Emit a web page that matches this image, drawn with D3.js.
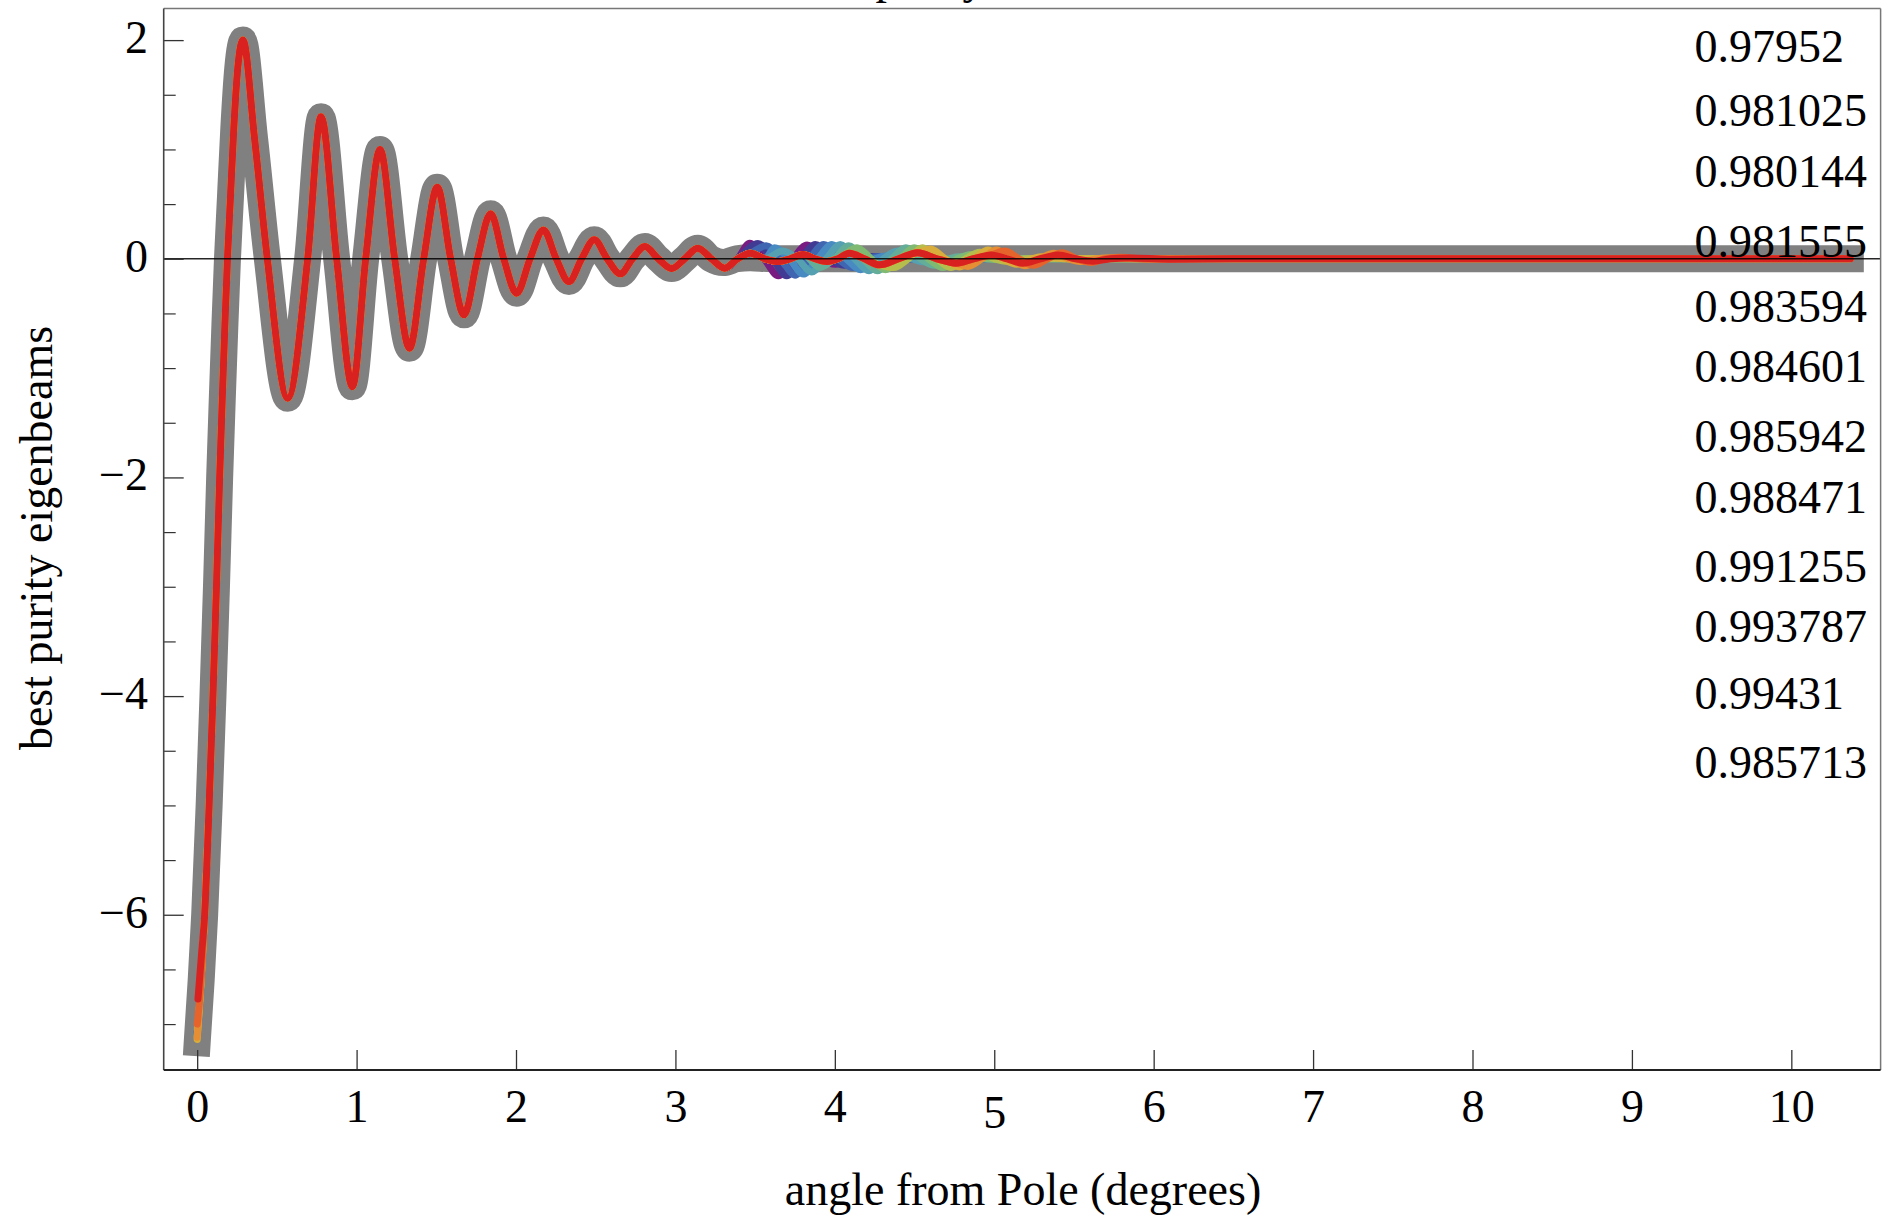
<!DOCTYPE html>
<html><head><meta charset="utf-8">
<script src="https://cdn.jsdelivr.net/npm/d3@7"></script>
<style>
html,body{margin:0;padding:0;background:#fff;overflow:hidden}
svg text{font-family:"Liberation Serif","Times New Roman",serif;fill:#000}
</style>
</head><body>
<svg id="chart" width="1888" height="1220"></svg>
<script>
// ---------------- DATA ----------------
const chartTitle = "best purity";
const xTitle = "angle from Pole (degrees)";
const yTitle = "best purity eigenbeams";
const xTicks = [0,1,2,3,4,5,6,7,8,9,10];
const yMajorTicks = [-6,-4,-2,0,2];
const yMinorTicks = [-7,-6.5,-5.5,-5,-4.5,-3.5,-3,-2.5,-1.5,-1,-0.5,0.5,1,1.5];
const purities = ["0.97952","0.981025","0.980144","0.981555","0.983594","0.984601",
                  "0.985942","0.988471","0.991255","0.993787","0.99431","0.985713"];
const seriesColors = ["#781C81","#413B93","#4065B1","#488BC2","#55A1B1","#63AD99",
                      "#7FB972","#B5BD4C","#D9AD3C","#E68E34","#E6642C","#D92120"];
// start values (x = 0) of the eleven non-red eigenbeams
const colorStartY = [-7.08,-7.1,-7.12,-7.1,-7.08,-7.05,-7.1,-7.12,-7.14,-7.12,-7.0];
// shared main lobe + oscillation (all beams coincide here)
const sharedBody = [
 [0.047,-6.0],[0.075,-5.0],[0.099,-4.0],[0.121,-3.0],[0.141,-2.0],[0.157,-1.3],[0.174,-0.6],
 [0.19,0],[0.208,0.54],[0.23,1.2],[0.255,1.75],[0.287,2.0],[0.36,1.1],
 [0.44,0],[0.568,-1.275],[0.693,0],[0.777,1.30],[0.875,0],[0.974,-1.17],
 [1.057,0],[1.147,1.0],[1.239,0],[1.332,-0.818],[1.421,0],[1.506,0.655],[1.59,0],[1.674,-0.513],
 [1.758,0],[1.841,0.411],[1.923,0],[2.004,-0.315],[2.088,0],[2.172,0.264],[2.252,0],[2.332,-0.208],
 [2.412,0],[2.491,0.173],[2.572,0],[2.654,-0.138],[2.731,0],[2.808,0.112],[2.892,0],[2.976,-0.09],
 [3.058,0],[3.14,0.097]
];
const redStart = [[0.005,-6.77],[0.028,-6.35]];
const otherStartNext = [0.025,-6.6];
const redTail = [
 [3.225,0],[3.31,-0.086],[3.39,0],[3.47,0.05],[3.56,0],[3.65,-0.025],[3.72,0],[3.80,0.04],
 [3.875,0],[3.95,-0.025],[4.02,0],[4.09,0.05],[4.185,0],[4.28,-0.055],[4.40,0],[4.52,0.055],
 [4.64,0],[4.76,-0.04],[4.87,0],[4.98,0.035],[5.08,0],[5.18,-0.04],[5.29,0],[5.40,0.035],
 [5.51,0],[5.62,-0.022],[5.73,0],[5.85,0.008],[6.1,-0.004],[6.5,0],[10.37,0]
];
const grayStart = [[0,-7.17],[0.025,-6.6]];
const grayTail = [[3.222,0],[3.30,-0.035],[3.385,0],[3.47,0.01],[3.6,0],[10.37,0]];
// individual tails of the eleven non-red eigenbeams
const colorTails = [
 [[3.466,0.142],[3.556,0],[3.646,-0.156],[3.736,0],[3.826,0.125],[3.916,0],[4.006,-0.05],[4.10,0],[4.19,0.015],[4.35,0]],
 [[3.518,0.14],[3.608,0],[3.698,-0.155],[3.788,0],[3.878,0.13],[3.968,0],[4.058,-0.06],[4.148,0],[4.238,0.02],[4.40,0]],
 [[3.570,0.12],[3.66,0],[3.750,-0.15],[3.84,0],[3.930,0.13],[4.02,0],[4.110,-0.08],[4.20,0],[4.29,0.02],[4.45,0]],
 [[3.622,0.10],[3.712,0],[3.802,-0.14],[3.892,0],[3.982,0.13],[4.072,0],[4.162,-0.10],[4.252,0],[4.342,0.03],[4.45,0]],
 [[3.674,0.07],[3.764,0],[3.854,-0.12],[3.944,0],[4.034,0.13],[4.124,0],[4.214,-0.11],[4.304,0],[4.394,0.07],[4.484,0],[4.574,-0.03],[4.70,0]],
 [[3.906,-0.08],[3.996,0],[4.086,0.12],[4.176,0],[4.266,-0.11],[4.356,0],[4.446,0.10],[4.536,0],[4.626,-0.06],[4.716,0],[4.806,0.02],[4.95,0]],
 [[4.138,0.10],[4.228,0],[4.318,-0.10],[4.408,0],[4.498,0.10],[4.588,0],[4.678,-0.08],[4.768,0],[4.858,0.04],[4.95,0],[5.05,-0.01],[5.2,0]],
 [[4.37,-0.08],[4.46,0],[4.55,0.10],[4.64,0],[4.73,-0.08],[4.82,0],[4.91,0.06],[5.00,0],[5.09,-0.025],[5.2,0],[5.4,0]],
 [[4.602,0.09],[4.692,0],[4.782,-0.075],[4.872,0],[4.962,0.08],[5.052,0],[5.142,-0.05],[5.232,0],[5.322,0.02],[5.45,0],[5.6,0]],
 [[4.834,-0.07],[4.924,0],[5.014,0.08],[5.104,0],[5.194,-0.065],[5.284,0],[5.374,0.05],[5.464,0],[5.554,-0.025],[5.644,0],[5.73,0.01],[5.9,0],[6.2,0]],
 [[5.066,0.07],[5.156,0],[5.246,-0.06],[5.336,0],[5.426,0.055],[5.516,0],[5.606,-0.035],[5.696,0],[5.786,0.015],[5.97,-0.005],[6.3,0]]
];
const lastX = 10.37;

// ---------------- LAYOUT ----------------
const L = 163.7, R = 1880.6, T = 8.4, B = 1070;
const FONT = 46;
const labelX = 1694.5;
const labelBaselines = [62,126,187,257,322,382,452,513,582,642,709,778];

const svg = d3.select("#chart");
const x = d3.scaleLinear().domain([-0.21, 10.56]).range([L, R]);
const y = d3.scaleLinear().domain([-7.42, 2.29]).range([B, T]);

// build series
const graySeries = grayStart.concat(sharedBody, grayTail);
const colorSeries = colorTails.map((tail, i) => {
  const t0 = tail[0][0] - 0.06;
  return [[0, colorStartY[i]], otherStartNext].concat(
    sharedBody, redTail.filter(p => p[0] < t0), tail, [[lastX, 0]]);
});
const redSeries = redStart.concat(sharedBody, redTail);

svg.append("defs").append("clipPath").attr("id","plotclip")
  .append("rect").attr("x", L).attr("y", T).attr("width", R - L).attr("height", B - T);

const line = d3.line().x(d => x(d[0])).y(d => y(d[1])).curve(d3.curveMonotoneX);
const plot = svg.append("g").attr("clip-path","url(#plotclip)");

plot.append("path").datum(graySeries).attr("d", line)
  .attr("fill","none").attr("stroke","#808080").attr("stroke-width",27)
  .attr("stroke-linecap","square").attr("stroke-linejoin","round");

colorSeries.forEach((s, i) => {
  plot.append("path").datum(s).attr("d", line)
    .attr("fill","none").attr("stroke", seriesColors[i]).attr("stroke-width",7)
    .attr("stroke-linecap","round").attr("stroke-linejoin","round");
});
plot.append("path").datum(redSeries).attr("d", line)
  .attr("fill","none").attr("stroke", seriesColors[11]).attr("stroke-width",7)
  .attr("stroke-linecap","round").attr("stroke-linejoin","round");

// zero axis line on top
svg.append("line").attr("x1", L).attr("x2", R).attr("y1", y(0)).attr("y2", y(0))
  .attr("stroke","#000").attr("stroke-width",1.6).attr("stroke-opacity",0.85);

// frame
svg.append("line").attr("x1",L).attr("x2",R).attr("y1",T).attr("y2",T).attr("stroke","#777").attr("stroke-width",1.5);
svg.append("line").attr("x1",R).attr("x2",R).attr("y1",T).attr("y2",B).attr("stroke","#777").attr("stroke-width",1.5);

// y axis
const yAxisMajor = d3.axisLeft(y).tickValues(yMajorTicks).tickSizeInner(-20).tickSizeOuter(0).tickPadding(15.7);
const gy = svg.append("g").attr("transform",`translate(${L},0)`).call(yAxisMajor);
gy.select(".domain").remove();
gy.selectAll(".tick line").attr("stroke","#333").attr("stroke-width",1.3);
gy.selectAll(".tick text").attr("font-size",FONT).attr("dy","0.27em")
  .attr("font-family",'"Liberation Serif","Times New Roman",serif').attr("fill","#000");
const yAxisMinor = d3.axisLeft(y).tickValues(yMinorTicks).tickSizeInner(-12).tickSizeOuter(0).tickFormat("");
const gym = svg.append("g").attr("transform",`translate(${L},0)`).call(yAxisMinor);
gym.select(".domain").remove();
gym.selectAll(".tick line").attr("stroke","#333").attr("stroke-width",1.2);

// x axis
const xAxis = d3.axisBottom(x).tickValues(xTicks).tickSizeInner(-20).tickSizeOuter(0).tickPadding(19)
  .tickFormat(d3.format("d"));
const gx = svg.append("g").attr("transform",`translate(0,${B})`).call(xAxis);
gx.select(".domain").remove();
gx.selectAll(".tick line").attr("stroke","#333").attr("stroke-width",1.3);
gx.selectAll(".tick text").attr("font-size",FONT)
  .attr("font-family",'"Liberation Serif","Times New Roman",serif').attr("fill","#000")
  .attr("dy", d => d === 5 ? "0.85em" : "0.71em");

// left & bottom frame lines
svg.append("line").attr("x1",L).attr("x2",L).attr("y1",T).attr("y2",B).attr("stroke","#444").attr("stroke-width",1.6);
svg.append("line").attr("x1",L).attr("x2",R).attr("y1",B).attr("y2",B).attr("stroke","#222").attr("stroke-width",2);

// purity labels
svg.append("g").selectAll("text").data(purities).join("text")
  .attr("x", labelX).attr("y", (d, i) => labelBaselines[i])
  .attr("font-size", FONT).text(d => d);

// titles (plot title is clipped by the top edge, as in the original)
svg.append("text").attr("x", 790).attr("y", -7).attr("text-anchor","start")
  .attr("font-size", FONT).text(chartTitle);
svg.append("text").attr("x", 1023).attr("y", 1205).attr("text-anchor","middle")
  .attr("font-size", FONT).text(xTitle);
svg.append("text").attr("transform","translate(52,538) rotate(-90)").attr("text-anchor","middle")
  .attr("font-size", FONT).text(yTitle);
</script>
</body></html>
